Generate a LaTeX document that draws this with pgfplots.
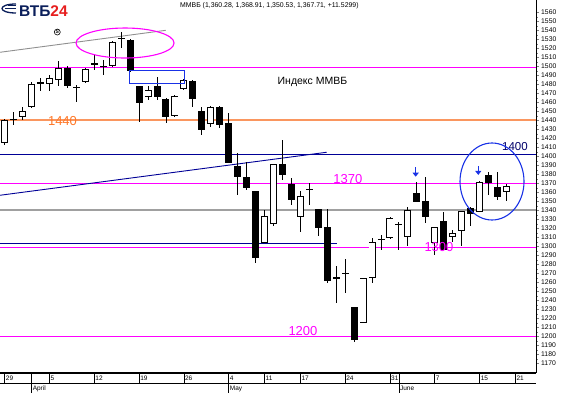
\documentclass[border=0pt]{standalone}
\usepackage{pgfplots}
\pgfplotsset{compat=1.18}
\usepackage{pgfplotstable}
\usepackage{fontspec}
\setmainfont{Liberation Sans}
\usetikzlibrary{arrows.meta}
\definecolor{mag}{RGB}{255,0,255}
\definecolor{org}{RGB}{250,150,95}
\definecolor{orgtxt}{RGB}{255,120,40}
\definecolor{navy}{RGB}{0,0,150}
\definecolor{blu}{RGB}{25,50,230}
\definecolor{vtbblue}{RGB}{10,30,90}
\definecolor{vtbred}{RGB}{230,30,30}
\definecolor{gr}{RGB}{160,160,160}

\pgfplotstableread{
i O H L C
0 1414.7 1441.7 1412.8 1440.6
1 1442.2 1449.8 1435.0 1441.2
2 1443.6 1454.7 1440.6 1450.9
3 1454.7 1483.1 1454.0 1480.2
4 1482.5 1487.6 1472.8 1481.5
5 1480.2 1490.6 1472.8 1486.9
6 1485.2 1506.0 1478.0 1498.0
7 1498.0 1500.6 1476.4 1478.7
8 1477.4 1479.4 1460.9 1476.4
9 1482.4 1498.7 1481.3 1497.2
10 1503.5 1512.8 1496.1 1502.5
11 1501.0 1507.2 1490.6 1500.0
12 1500.9 1528.7 1500.0 1527.6
13 1531.8 1538.7 1520.2 1530.8
14 1529.4 1530.2 1494.2 1495.3
15 1478.3 1478.5 1438.7 1459.8
16 1465.8 1478.7 1462.8 1473.9
17 1478.3 1488.7 1462.8 1465.8
18 1463.9 1464.5 1436.9 1443.6
19 1445.0 1468.7 1444.0 1467.6
20 1475.5 1486.0 1474.0 1485.0
21 1484.2 1485.0 1455.3 1463.6
22 1450.6 1455.3 1423.9 1429.4
23 1436.1 1456.0 1433.0 1455.3
24 1455.3 1456.0 1431.3 1435.0
25 1437.6 1448.7 1392.4 1392.4
26 1389.4 1403.5 1357.2 1377.6
27 1376.9 1394.2 1362.8 1364.7
28 1361.7 1362.0 1282.0 1286.9
29 1304.2 1340.6 1304.0 1333.9
30 1324.6 1392.0 1322.8 1391.3
31 1391.7 1418.3 1373.9 1379.4
32 1369.4 1375.8 1346.1 1351.7
33 1333.1 1361.7 1316.4 1356.4
34 1364.0 1370.2 1346.1 1363.0
35 1341.3 1341.3 1311.7 1320.2
36 1322.0 1341.3 1259.1 1262.0
37 1265.8 1278.7 1236.9 1264.8
38 1270.7 1286.1 1248.0 1269.7
39 1233.1 1233.1 1194.0 1196.1
40 1215.3 1265.0 1215.0 1264.7
41 1264.7 1309.1 1259.1 1305.4
42 1308.8 1312.8 1296.1 1307.8
43 1309.1 1332.4 1308.0 1331.3
44 1325.2 1327.6 1296.1 1324.2
45 1310.9 1344.2 1300.6 1340.6
46 1359.1 1372.0 1349.0 1349.8
47 1350.9 1376.9 1325.8 1333.1
48 1303.6 1322.0 1290.0 1321.9
49 1328.3 1338.7 1296.0 1296.1
50 1310.8 1318.3 1305.4 1314.5
51 1317.2 1339.6 1300.6 1339.4
52 1342.4 1344.2 1322.8 1336.1
53 1338.7 1372.5 1338.0 1372.0
54 1379.4 1383.1 1357.2 1370.2
55 1366.4 1383.1 1351.7 1355.3
56 1360.28 1368.91 1350.53 1367.71
}\candles

\begin{document}
\begin{tikzpicture}[font=\fontsize{6.5}{7}\selectfont]
\path[use as bounding box] (0,0) rectangle (568pt,393pt);
\begin{axis}[
  at={(0pt,20pt)}, anchor=south west,
  scale only axis, width=536pt, height=373pt,
  xmin=-0.525, xmax=59.3, ymin=1159.4, ymax=1573.9,
  clip=false,
  axis x line*=bottom, axis y line*=right,
  axis line style={-},
  x axis line style={line width=1.3pt},
  y axis line style={line width=0.7pt},
  /pgf/number format/assume math mode=true,
  /pgf/number format/1000 sep={},
  scaled y ticks=false,
  ytick={1170,1180,...,1560},
  minor y tick num=1,
  yticklabel pos=right,
  ytick align=outside,
  major tick length=3pt, minor tick length=1.5pt,
  yticklabel style={anchor=west, inner sep=0pt, xshift=2pt, font=\fontsize{6.8}{7}\selectfont},
  xtick={0,5,10,15,20,25,29,33,38,43,48,53,57},
  xticklabels={29,5,12,19,26,4,11,17,24,31,7,15,21},
  xtick style={draw=none},
  xticklabel style={anchor=west, inner sep=0pt, xshift=1pt, yshift=-5pt, font=\fontsize{6.5}{7}\selectfont},
  candle/.style={draw=none, mark=none, forget plot, error bars/.cd, y dir=both, y explicit, error mark=none},
]
% horizontal levels
\addplot[mag, line width=1pt] coordinates {(-0.525,1499.4) (59.3,1499.4)};
\addplot[org, line width=2pt] coordinates {(-0.525,1440) (59.3,1440)};
\addplot[navy, line width=0.9pt] coordinates {(-0.525,1402.4) (59.3,1402.4)};
\addplot[mag, line width=1pt] coordinates {(-0.525,1370.2) (59.3,1370.2)};
\addplot[gr, line width=2pt] coordinates {(-0.525,1340.5) (59.3,1340.5)};
\addplot[navy, line width=0.9pt] coordinates {(-0.525,1303.6) (37.1,1303.6)};
\addplot[mag, line width=1pt] coordinates {(-0.525,1299.1) (59.3,1299.1)};
\addplot[mag, line width=1pt] coordinates {(-0.525,1199.8) (59.3,1199.8)};
% trend lines
\addplot[navy, line width=0.9pt] coordinates {(-0.525,1356.9) (35.94,1404.7)};
\addplot[gr!90!black, line width=0.9pt] coordinates {(-0.525,1515.8) (17.97,1540.2)};
% wicks
\addplot[candle, error bar style={draw=black, line width=0.9pt}]
  table[x=i, y expr={(\thisrow{H}+\thisrow{L})/2}, y error expr={(\thisrow{H}-\thisrow{L})/2}] {\candles};
% bodies (outline / black)
\addplot[candle, error bar style={draw=black, line width=7pt}]
  table[x=i, y expr={(\thisrow{O}+\thisrow{C})/2}, y error expr={abs(\thisrow{O}-\thisrow{C})/2}] {\candles};
% white fill of rising candles
\addplot[candle, error bar style={draw=white, line width=5.2pt}]
  table[x=i, y expr={(\thisrow{O}+\thisrow{C})/2}, y error expr={max((\thisrow{C}-\thisrow{O})/2-1.1,0)}] {\candles};
% level labels
\node[orgtxt, font=\fontsize{13}{13}\selectfont] at (axis cs:6.45,1439.4) {1440};
\node[mag, font=\fontsize{13}{13}\selectfont] at (axis cs:38.31,1375) {1370};
\node[mag, font=\fontsize{13}{13}\selectfont] at (axis cs:48.47,1298.9) {1300};
\node[mag, font=\fontsize{13}{13}\selectfont] at (axis cs:33.29,1206.1) {1200};
\node[navy!70!black, font=\fontsize{11.5}{12}\selectfont] at (axis cs:56.95,1410.9) {1400};
\node[font=\fontsize{10.5}{11}\selectfont] at (axis cs:34.35,1483.1) {Индекс ММВБ};
% box, ellipses, arrows
\draw[blu, line width=0.9pt] (axis cs:13.9,1495.3) rectangle (axis cs:20.01,1481.3);
\draw[mag, line width=1.1pt] (axis cs:13.43,1526.1) ellipse [x radius=49pt, y radius=15pt];
\draw[blu, line width=1.1pt] (axis cs:54.39,1372.2) ellipse [x radius=32pt, y radius=38.5pt];
\draw[blu, line width=1.6pt, -{Triangle[length=4pt,width=6pt]}] (axis cs:45.87,1388) -- (axis cs:45.87,1377.5);
\draw[blu, line width=1.6pt, -{Triangle[length=4pt,width=6pt]}] (axis cs:52.86,1389) -- (axis cs:52.86,1379.5);
\node[draw, circle, inner sep=0.4pt, line width=0.6pt, font=\fontsize{5}{5}\selectfont\bfseries] at (axis cs:5.87,1538.3) {S};
% date band
\draw[black, line width=0.8pt] ([yshift=-10pt]axis cs:-0.525,1159.4) -- ([yshift=-10pt]axis cs:59.3,1159.4);
\pgfplotsinvokeforeach{0,5,10,15,20,25,29,33,38,43,48,53,57}{
  \draw[black, line width=0.6pt] (axis cs:#1,1159.4) -- ++(0pt,-10pt);
}
\pgfplotsinvokeforeach{3,25,44}{
  \draw[black, line width=0.6pt] (axis cs:#1,1159.4) -- ++(0pt,-20pt);
}
\node[anchor=base west, inner sep=0pt] at ([xshift=1pt, yshift=-18pt]axis cs:3,1159.4) {April};
\node[anchor=base west, inner sep=0pt] at ([xshift=1pt, yshift=-18pt]axis cs:25,1159.4) {May};
\node[anchor=base west, inner sep=0pt] at ([xshift=1pt, yshift=-18pt]axis cs:44,1159.4) {June};
\end{axis}
% title and logo
\node[anchor=base west, inner sep=0pt, font=\fontsize{6.9}{7}\selectfont] at (180pt,385pt) {ММВБ (1,360.28, 1,368.91, 1,350.53, 1,367.71, +11.5299)};
\node[anchor=base west, inner sep=0pt, font=\fontsize{15.5}{16}\selectfont\bfseries] at (19pt,376pt) {\textcolor{vtbblue}{ВТБ}\textcolor{vtbred}{24}};
\draw[vtbblue, line width=1.3pt] (16pt,389pt) .. controls (6pt,389pt) and (2pt,386.5pt) .. (2pt,384.5pt) .. controls (2pt,382.5pt) and (6pt,380pt) .. (16pt,380pt);
\draw[vtbblue, line width=1.2pt] (5pt,384.5pt) -- (16pt,384.5pt);
\draw[vtbblue, line width=1.0pt] (8pt,387pt) -- (16pt,387pt);
\end{tikzpicture}
\end{document}
